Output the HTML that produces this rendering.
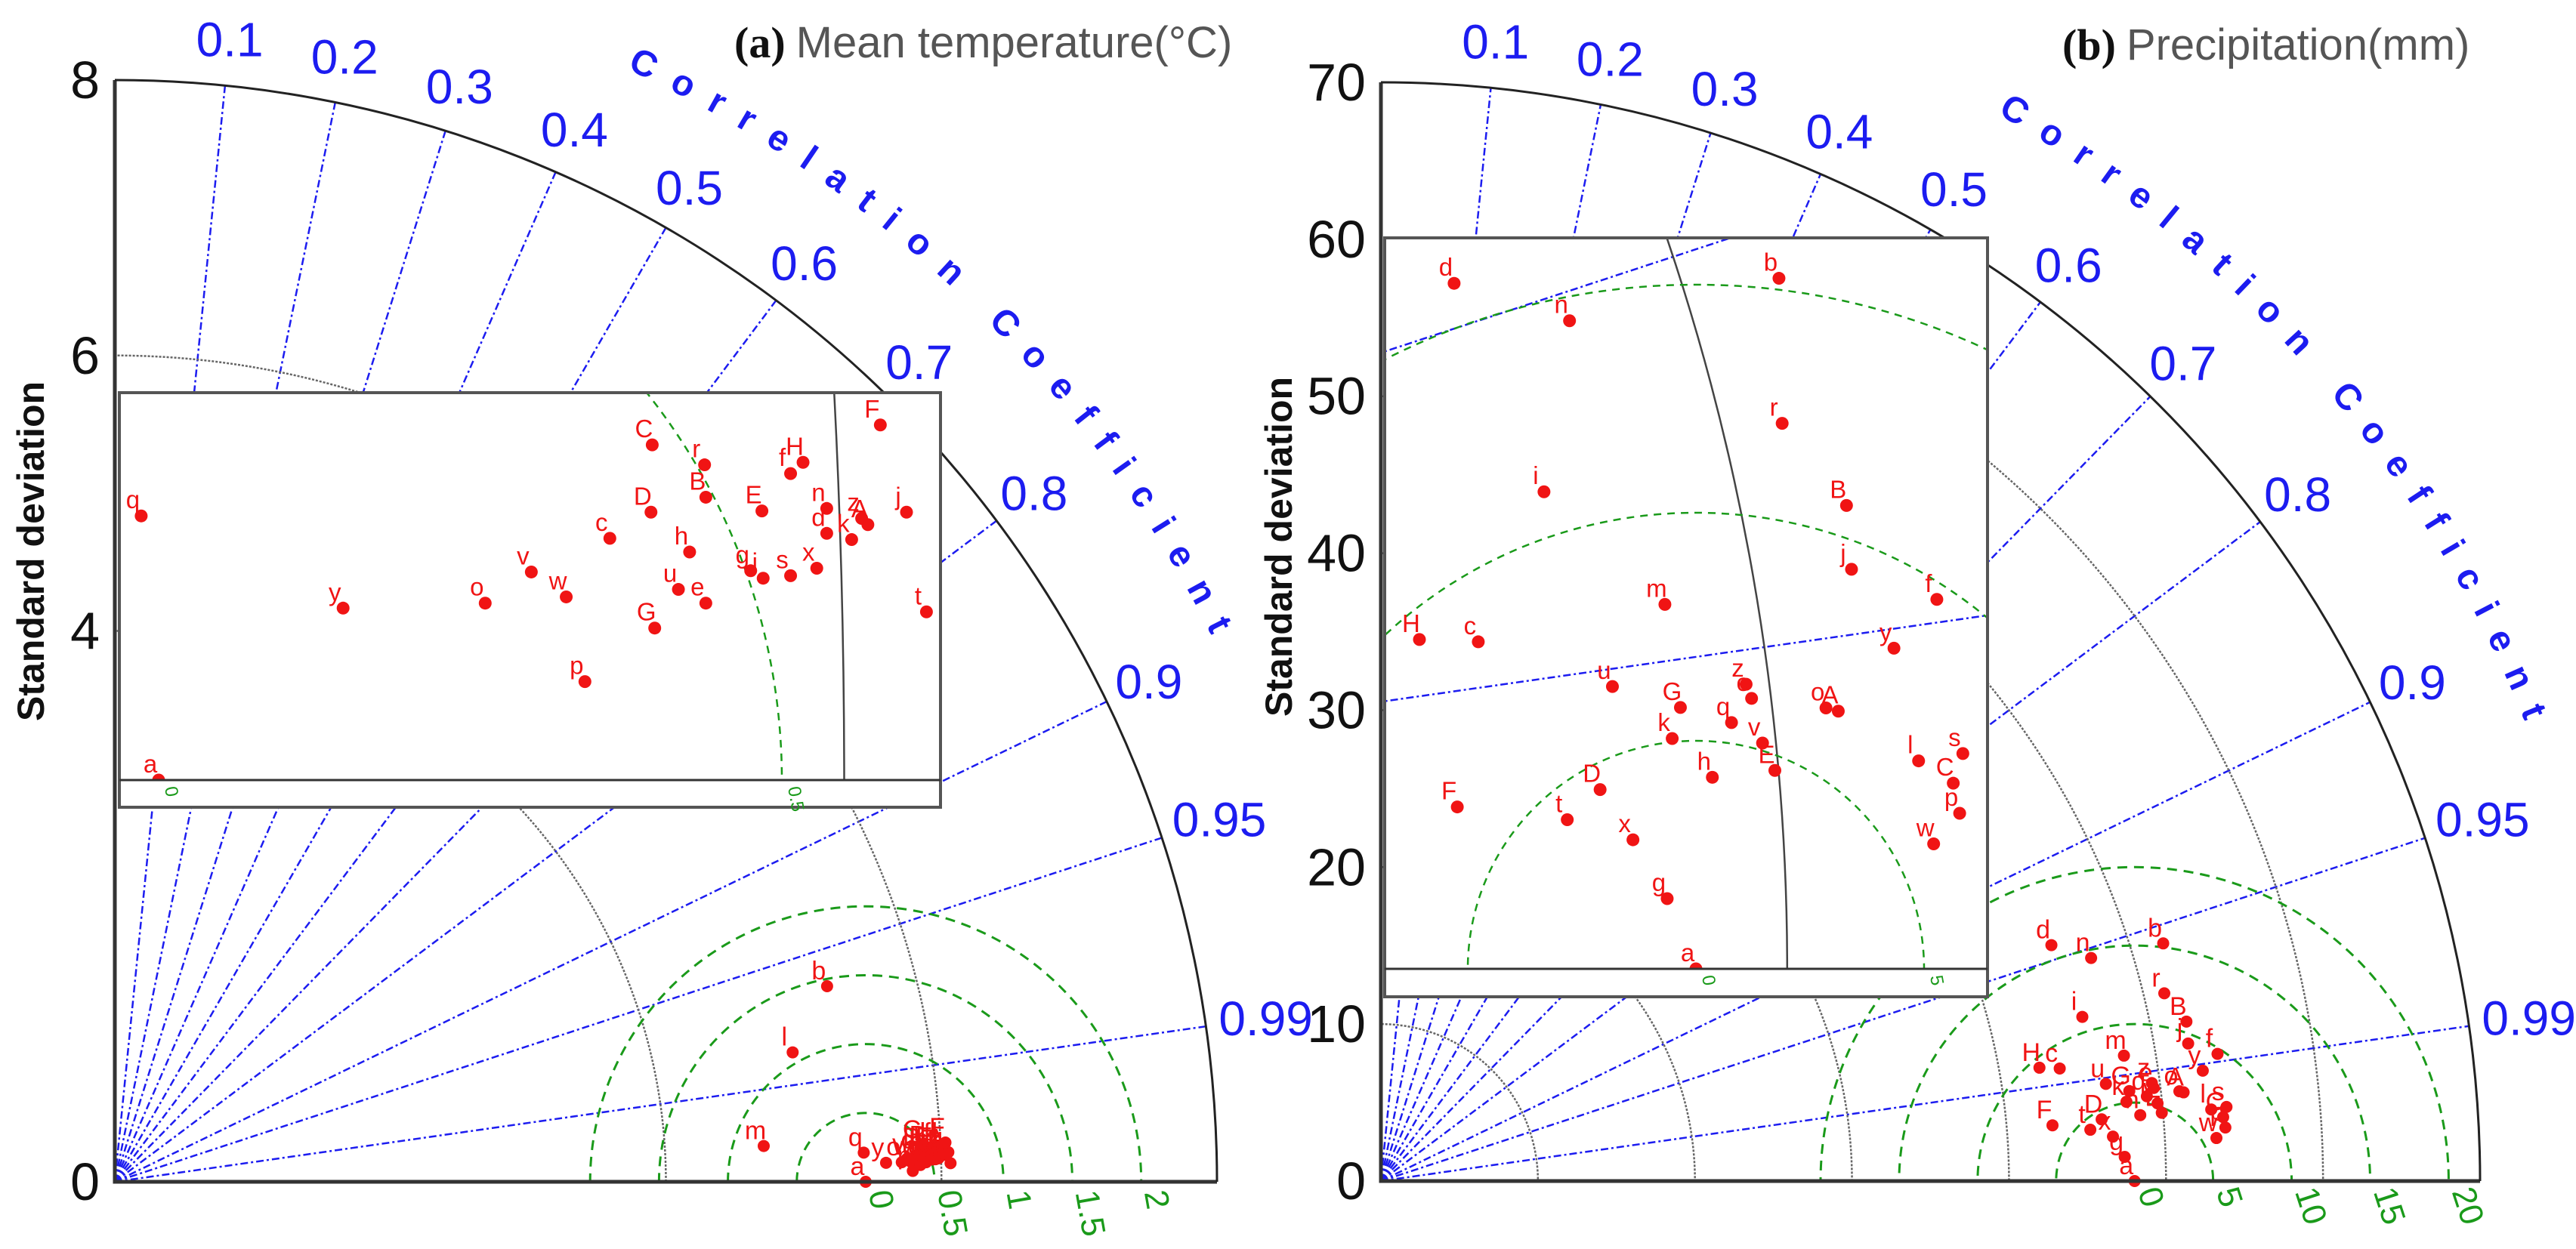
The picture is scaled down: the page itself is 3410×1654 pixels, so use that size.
<!DOCTYPE html>
<html><head><meta charset="utf-8"><style>
html,body{margin:0;padding:0;background:#fff;overflow:hidden;width:3410px;height:1654px;}
svg{display:block;font-family:"Liberation Sans",Arial,sans-serif;}
</style></head><body>
<svg id="chart" width="3410" height="1654" viewBox="0 0 3410 1654" xmlns="http://www.w3.org/2000/svg">
<rect x="0" y="0" width="3410" height="1654" fill="#fff"/>
</svg>
<script>
// ---------- data ----------
const corrTicks = [0.1,0.2,0.3,0.4,0.5,0.6,0.7,0.8,0.9,0.95,0.99];
const corrTickLabels = ['0.1','0.2','0.3','0.4','0.5','0.6','0.7','0.8','0.9','0.95','0.99'];

const tempStdTicks = [0,4,6,8];
const tempStdArcs = [4,6];
const tempRmsTicks = [0.5,1,1.5,2];
const tempRmsLabels = ['0.5','1','1.5','2'];
const tempRefStd = 5.45;
const tempLabels = ['a','b','l','m','q','y','o','v','w','c','p','G','u','e','h','D','C','r','B','E','g','i','s','x','H','f','n','d','k','z','A','j','F','t'];
const tempStdCos = [5.45,5.17,4.92,4.71,5.436,5.598,5.712,5.749,5.777,5.812,5.792,5.848,5.867,5.889,5.876,5.845,5.846,5.888,5.889,5.934,5.925,5.935,5.957,5.978,5.967,5.957,5.986,5.986,6.006,6.014,6.019,6.050,6.029,6.066];
const tempStdSin = [0,1.42,0.94,0.26,0.212,0.138,0.142,0.167,0.147,0.194,0.079,0.122,0.153,0.142,0.183,0.215,0.269,0.253,0.227,0.216,0.168,0.162,0.164,0.170,0.255,0.246,0.218,0.198,0.193,0.210,0.205,0.215,0.285,0.135];

const precStdTicks = [0,10,20,30,40,50,60,70];
const precStdArcs = [10,20,30,40,50,60];
const precRmsTicks = [5,10,15,20];
const precRmsLabels = ['5','10','15','20'];
const precRefStd = 48;
const precLabels = ['d','b','n','r','i','B','j','f','m','H','c','y','u','G','z','e','o','A','q','k','v','E','l','s','C','p','h','D','F','t','x','w','g','a'];
const precStdCos = [42.70,49.82,45.23,49.89,44.67,51.30,51.41,53.28,47.32,41.94,43.23,52.34,46.17,47.66,49.10,49.22,50.85,51.12,48.78,47.48,49.46,49.73,52.88,53.85,53.64,53.78,48.36,45.90,42.77,45.18,46.62,53.21,47.37,48.00];
const precStdSin = [15.03,15.14,14.21,11.96,10.46,10.16,8.76,8.10,7.99,7.22,7.17,7.03,6.19,5.73,6.24,5.93,5.72,5.65,5.40,5.05,4.95,4.35,4.56,4.72,4.07,3.41,4.20,3.93,3.55,3.27,2.83,2.74,1.54,0];

// ---------- helpers ----------
const NS = 'http://www.w3.org/2000/svg';
const svg = document.getElementById('chart');
function el(tag, parent, attrs){
  const e = document.createElementNS(NS, tag);
  for (const k in attrs) e.setAttribute(k, attrs[k]);
  parent.appendChild(e);
  return e;
}
const BLUE = '#1c1cf0', GREEN = '#1a9a1a', RED = '#f01414', GREY = '#666';
let clipId = 0;

function drawPanel(cfg, stdTicks, stdArcs, rmsTicks, rmsLabels, refStd, labels, xs, ys){
  const g = el('g', svg, {});
  
  
  const O = cfg.O, R = cfg.R, k = R / cfg.max;
  const mx = X => O[0] + X * k;
  const my = Y => O[1] - Y * k;

  const cid = 'clipq' + (clipId++);
  const defs = el('defs', g, {});
  const cp = el('clipPath', defs, {id: cid});
  el('path', cp, {d: `M${O[0]},${O[1]} L${O[0]},${O[1]-R} A${R},${R} 0 0 1 ${O[0]+R},${O[1]} Z`});
  const inner = el('g', g, {'clip-path': `url(#${cid})`});

  corrTicks.forEach((c, i) => {
    const th = Math.acos(c);
    const ln = el('line', inner, {x1: mx(0), y1: my(0), x2: mx(cfg.max*Math.cos(th)), y2: my(cfg.max*Math.sin(th)), stroke: BLUE, 'stroke-width': 2.5, 'stroke-dasharray': '10,4,3,4'});
    
    
  });
  stdArcs.forEach(s => {
    const a = el('circle', inner, {cx: mx(0), cy: my(0), r: s*k, fill: 'none', stroke: GREY, 'stroke-width': 2.5, 'stroke-dasharray': '3,2'});
    
    
  });
  rmsTicks.forEach(r => {
    const a = el('circle', inner, {cx: mx(refStd), cy: my(0), r: r*k, fill: 'none', stroke: GREEN, 'stroke-width': 3, 'stroke-dasharray': '13,9'});
    
    
  });
  labels.forEach((lb, i) => {
    const px = mx(xs[i]), py = my(ys[i]);
    const d = el('circle', g, {cx: px, cy: py, r: 8, fill: RED});
    
    
    const t = el('text', g, {x: px - 11, y: py - 9, fill: RED, 'font-size': 34, 'text-anchor': 'middle'});
    t.textContent = lb;
    
    
  });

  const ax = el('path', g, {d: `M${O[0]},${O[1]-R} L${O[0]},${O[1]} L${O[0]+R},${O[1]}`, fill: 'none', stroke: '#333', 'stroke-width': 5});
  
  
  const arc = el('path', g, {d: `M${O[0]},${O[1]-R} A${R},${R} 0 0 1 ${O[0]+R},${O[1]}`, fill: 'none', stroke: '#222', 'stroke-width': 3});
  
  

  stdTicks.forEach(s => {
    const t = el('text', g, {x: O[0] - 20, y: my(s) + 24, 'font-size': 70, 'text-anchor': 'end', fill: '#111'});
    t.textContent = String(s);
    
    
  });
  const rl = [['0', 0]].concat(rmsTicks.map((r, i) => [rmsLabels[i], r]));
  rl.forEach(([txt, r]) => {
    const x = mx(refStd + r) + 4, y = O[1] + 14;
    const t = el('text', g, {x: x, y: y, 'font-size': 44, fill: GREEN, transform: `rotate(${cfg.rmsRot} ${x} ${y})`});
    t.textContent = txt;
    
    
  });
  corrTicks.forEach((c, i) => {
    const th = Math.acos(c);
    const rr = R + 62 + (corrTickLabels[i].length > 3 ? 18 : 0);
    const t = el('text', g, {x: O[0] + rr*Math.cos(th), y: O[1] - rr*Math.sin(th) + 23, 'font-size': 64, fill: BLUE, 'text-anchor': 'middle'});
    t.textContent = corrTickLabels[i];
    
    
  });
  const pid = 'cpath' + (clipId++);
  const a1 = cfg.cc[0]*Math.PI/180, a2 = cfg.cc[1]*Math.PI/180, rc = cfg.cc[2];
  el('path', defs, {id: pid, d: `M${O[0]+rc*Math.cos(a1)},${O[1]-rc*Math.sin(a1)} A${rc},${rc} 0 0 1 ${O[0]+rc*Math.cos(a2)},${O[1]-rc*Math.sin(a2)}`});
  const ct = el('text', g, {'font-size': 48, 'font-weight': 'bold', fill: BLUE});
  
  
  const tp = el('textPath', ct, {href: '#' + pid, textLength: rc*(a1-a2), lengthAdjust: 'spacing'});
  tp.textContent = 'Correlation Coefficient';

  const yt = el('text', g, {x: cfg.yTitle[0], y: cfg.yTitle[1], 'font-size': 50, 'font-weight': 'bold', 'text-anchor': 'middle', fill: '#111', transform: `rotate(-90 ${cfg.yTitle[0]} ${cfg.yTitle[1]})`});
  yt.textContent = 'Standard deviation';
  
  

  const tt = el('text', g, {x: cfg.title[0], y: cfg.title[1], 'font-size': 58});
  
  
  const s1 = el('tspan', tt, {'font-family': '"Liberation Serif",serif', 'font-weight': 'bold', fill: '#111'});
  s1.textContent = cfg.tag;
  const s2 = el('tspan', tt, {fill: '#555', dx: 14});
  s2.textContent = cfg.titleText;

  // ---------- inset ----------
  const I = cfg.inset;
  const ig = el('g', g, {});
  
  
  const bg = el('rect', ig, {x: I.x, y: I.y, width: I.w, height: I.h, fill: '#fff', stroke: '#555', 'stroke-width': 4});
  
  
  const ix = X => I.refX + (X - refStd) * I.s;
  const iy = Y => I.axisY - Y * I.s;
  const icid = 'clipi' + (clipId++);
  const icp = el('clipPath', defs, {id: icid});
  el('rect', icp, {x: I.x + 2, y: I.y + 2, width: I.w - 4, height: I.axisY - I.y - 2});
  const ic = el('g', ig, {'clip-path': `url(#${icid})`});
  corrTicks.forEach((c, i) => {
    const th = Math.acos(c);
    const ln = el('line', ic, {x1: ix(0), y1: iy(0), x2: ix(cfg.max*Math.cos(th)), y2: iy(cfg.max*Math.sin(th)), stroke: BLUE, 'stroke-width': 2.5, 'stroke-dasharray': '10,4,3,4'});
    
    
  });
  stdArcs.forEach(s => {
    const a = el('circle', ic, {cx: ix(0), cy: iy(0), r: s*I.s, fill: 'none', stroke: '#444', 'stroke-width': 2.5});
    
    
  });
  rmsTicks.forEach(r => {
    const a = el('circle', ic, {cx: ix(refStd), cy: iy(0), r: r*I.s, fill: 'none', stroke: GREEN, 'stroke-width': 2.5, 'stroke-dasharray': '10,8'});
    
    
  });
  labels.forEach((lb, i) => {
    const px = ix(xs[i]), py = iy(ys[i]);
    const d = el('circle', ic, {cx: px, cy: py, r: 8.5, fill: RED});
    
    
    const t = el('text', ic, {x: px - 11, y: py - 10, fill: RED, 'font-size': 33, 'text-anchor': 'middle'});
    t.textContent = lb;
    
    
  });
  const ia = el('line', ig, {x1: I.x, y1: I.axisY, x2: I.x + I.w, y2: I.axisY, stroke: '#333', 'stroke-width': 3});
  
  
  const il = [['0', 0], [rmsLabels[0], rmsTicks[0]]];
  il.forEach(([txt, r]) => {
    const x = ix(refStd + r) + 8, y = I.axisY + 10;
    if (x > I.x + I.w) return;
    const t = el('text', ig, {x: x, y: y, 'font-size': 24, fill: GREEN, transform: `rotate(80 ${x} ${y})`});
    t.textContent = txt;
    
    
  });
}

drawPanel({
  name: 'temperature', O: [152, 1565], R: 1459, max: 8, rmsRot: 80,
  cc: [65.3, 26.5, 1622], yTitle: [58, 730], title: [972, 76], tag: '(a)', titleText: 'Mean temperature(°C)',
  inset: {x: 158, y: 520, w: 1087, h: 549, refX: 210, axisY: 1033, s: 1650}
}, tempStdTicks, tempStdArcs, tempRmsTicks, tempRmsLabels, tempRefStd, tempLabels, tempStdCos, tempStdSin);

drawPanel({
  name: 'precipitation', O: [1828, 1564], R: 1455, max: 70, rmsRot: 72,
  cc: [60.0, 21.9, 1632], yTitle: [1710, 724], title: [2730, 79], tag: '(b)', titleText: 'Precipitation(mm)',
  inset: {x: 1833, y: 315, w: 798, h: 1005, refX: 2245, axisY: 1283, s: 60.4}
}, precStdTicks, precStdArcs, precRmsTicks, precRmsLabels, precRefStd, precLabels, precStdCos, precStdSin);
</script>
</body></html>
